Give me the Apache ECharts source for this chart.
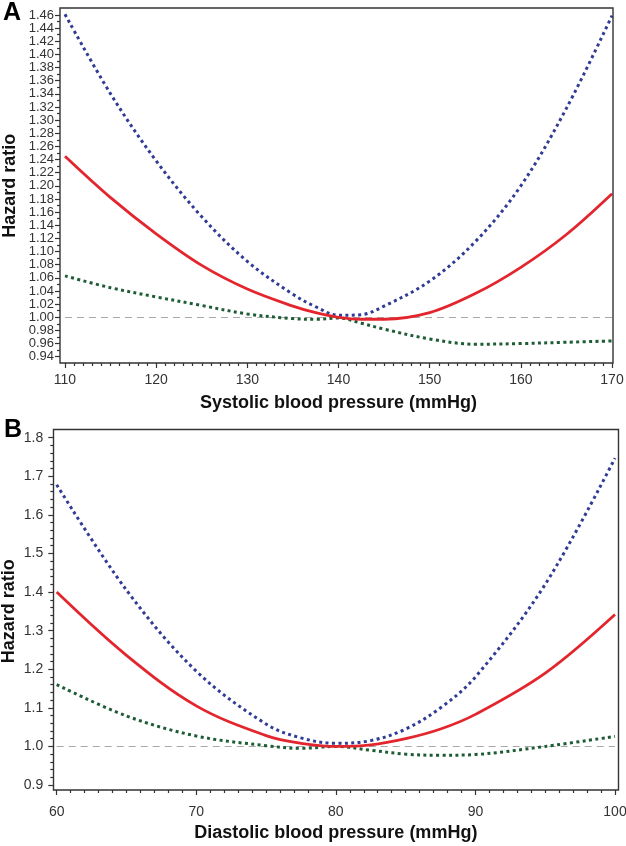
<!DOCTYPE html>
<html>
<head>
<meta charset="utf-8">
<script src="https://cdn.jsdelivr.net/npm/echarts@6/dist/echarts.min.js"></script>
<style>
  html, body { margin: 0; padding: 0; background: #fff; }
  #main { width: 626px; height: 846px; }
</style>
</head>
<body>
<div id="main"></div>
<script>
// panel A - systolic
var sbpX   = [110, 115, 120, 125, 130, 135, 137.5, 140, 142.5, 145, 150, 155, 160, 165, 170];
var redA   = [1.245, 1.182, 1.127, 1.079, 1.043, 1.017, 1.007, 1.000, 0.997, 0.997, 1.007, 1.036, 1.076, 1.126, 1.188];
var blueA  = [1.461, 1.340, 1.238, 1.153, 1.085, 1.035, 1.016, 1.003, 1.004, 1.017, 1.055, 1.115, 1.200, 1.318, 1.459];
var greenA = [1.063, 1.045, 1.031, 1.018, 1.005, 0.998, 0.997, 0.999, 0.991, 0.982, 0.967, 0.959, 0.960, 0.962, 0.964];

// panel B - diastolic
var dbpX   = [60, 65, 70, 75, 77.5, 80, 82.5, 85, 87.5, 90, 95, 100];
var redB   = [1.400, 1.236, 1.105, 1.028, 1.008, 1.000, 1.004, 1.020, 1.045, 1.083, 1.190, 1.342];
var blueB  = [1.678, 1.405, 1.195, 1.058, 1.022, 1.008, 1.015, 1.045, 1.100, 1.180, 1.420, 1.747];
var greenB = [1.160, 1.079, 1.027, 1.002, 0.995, 1.000, 0.990, 0.980, 0.977, 0.979, 1.000, 1.026];

var refValue = 1;
var yTitle = 'Hazard ratio';
var xTitleA = 'Systolic blood pressure (mmHg)';
var xTitleB = 'Diastolic blood pressure (mmHg)';

var RED = '#e3262d', BLUE = '#2f3b94', GREEN = '#1d5c34';
var FONT = 'Liberation Sans, Arial, sans-serif';

function pairs(xs, ys){
	return xs.map(function(x, i){ return [x, ys[i]]; });
}

function curve(name, xs, ys, idx, color, dotted, withRef){
	var s = {
		name: name,
		type: 'line',
		xAxisIndex: idx,
		yAxisIndex: idx,
		data: pairs(xs, ys),
		smooth: 0.35,
		symbol: 'none',
		clip: false,
		z: dotted ? 3 : 4,
		lineStyle: dotted
			? { color: color, width: 3, type: [3, 3.4], cap: 'butt' }
			: { color: color, width: 2.8 }
	};
	if (withRef) {
		s.markLine = {
			silent: true,
			symbol: 'none',
			label: { show: false },
			lineStyle: { color: '#a8a8a8', width: 1, type: [7, 5] },
			data: [{ yAxis: refValue }],
			z: 1
		};
	}
	return s;
}

function xAxis(idx, min, max, offset, margin, gap, title){
	return {
		type: 'value', gridIndex: idx, min: min, max: max, interval: 10,
		offset: offset,
		axisLine: { show: false },
		axisTick: { show: true, length: 5, lineStyle: { color: '#333', width: 1.2 } },
		minorTick: { show: true, splitNumber: 10, length: 3, lineStyle: { color: '#333', width: 1.2 } },
		splitLine: { show: false },
		axisLabel: { color: '#333', fontSize: 14, fontFamily: FONT, margin: margin,
			showMinLabel: true, showMaxLabel: true, hideOverlap: false },
		name: title, nameLocation: 'middle', nameGap: gap, nameMoveOverlap: false,
		nameTextStyle: { color: '#111', fontSize: 18, fontWeight: 'bold', fontFamily: FONT }
	};
}

function yAxis(idx, min, max, step, minor, offset, margin, gap, digits, fontSize){
	return {
		type: 'value', gridIndex: idx, min: min, max: max, interval: step,
		offset: offset,
		axisLine: { show: false },
		axisTick: { show: true, length: 5, lineStyle: { color: '#333', width: 1.2 } },
		minorTick: { show: true, splitNumber: minor, length: 3, lineStyle: { color: '#333', width: 1.2 } },
		splitLine: { show: false },
		axisLabel: {
			color: '#333', fontSize: fontSize, fontFamily: FONT, margin: margin,
			showMinLabel: true, showMaxLabel: true, hideOverlap: false,
			formatter: function(v){ return (+v).toFixed(digits); }
		},
		name: yTitle, nameLocation: 'middle', nameGap: gap, nameMoveOverlap: false,
		nameTextStyle: { color: '#111', fontSize: 18, fontWeight: 'bold', fontFamily: FONT }
	};
}

var chart = echarts.init(document.getElementById('main'), null, { renderer: 'canvas' });

var option = {
	animation: false,
	backgroundColor: '#fff',
	grid: [
		{ left: 65, right: 14, top: 15, height: 341.7, outerBoundsMode: 'none', containLabel: false },
		{ left: 56.7, right: 11, top: 437.7, height: 347.3, outerBoundsMode: 'none', containLabel: false }
	],
	xAxis: [
		xAxis(0, 110, 170, 6.3, 10, 31, xTitleA),
		xAxis(1, 60, 100, 5, 15, 34, xTitleB)
	],
	yAxis: [
		yAxis(0, 0.94, 1.46, 0.02, 2, 5, 6, 41, 2, 13),
		yAxis(1, 0.9, 1.8, 0.1, 5, 3.4, 10, 35, 1, 14)
	],
	graphic: [
		{ type: 'rect', shape: { x: 60, y: 8, width: 553, height: 355 },
		  style: { fill: 'none', stroke: '#333', lineWidth: 1.4 }, z: 10 },
		{ type: 'rect', shape: { x: 53.5, y: 429.5, width: 565, height: 360.5 },
		  style: { fill: 'none', stroke: '#333', lineWidth: 1.4 }, z: 10 },
		{ type: 'text', left: 3, top: 1,
		  style: { text: 'A', fontSize: 25, fontWeight: 'bold', fontFamily: FONT, fill: '#000' } },
		{ type: 'text', left: 4, top: 418,
		  style: { text: 'B', fontSize: 25, fontWeight: 'bold', fontFamily: FONT, fill: '#000' } }
	],
	series: [
		curve('HR', sbpX, redA, 0, RED, false, true),
		curve('Upper', sbpX, blueA, 0, BLUE, true, false),
		curve('Lower', sbpX, greenA, 0, GREEN, true, false),
		curve('HR', dbpX, redB, 1, RED, false, true),
		curve('Upper', dbpX, blueB, 1, BLUE, true, false),
		curve('Lower', dbpX, greenB, 1, GREEN, true, false)
	]
};

chart.setOption(option);
</script>
</body>
</html>
